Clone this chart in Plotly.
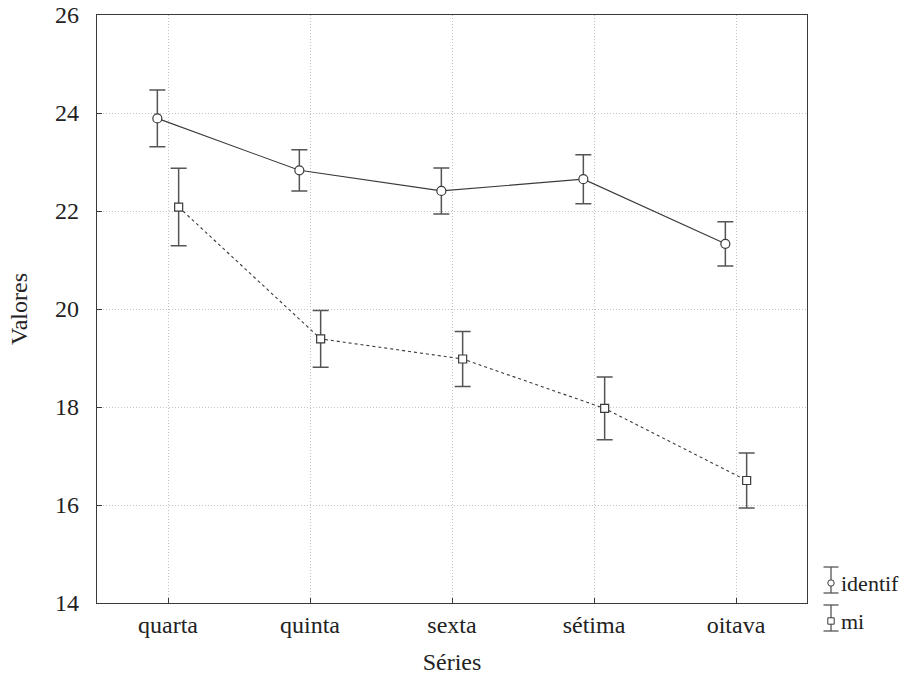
import plotly.graph_objects as go

categories = ["quarta", "quinta", "sexta", "sétima", "oitava"]
identif_mean = [23.89, 22.83, 22.41, 22.65, 21.33]
identif_err = [0.58, 0.42, 0.47, 0.50, 0.45]
mi_mean = [22.08, 19.39, 18.98, 17.97, 16.50]
mi_err = [0.79, 0.58, 0.56, 0.64, 0.56]
series_names = ["identif", "mi"]
y_ticks = [14, 16, 18, 20, 22, 24, 26]

W, H = 902, 680
ML, MR, MT, MB = 97, 95, 15, 77
PW, PH = W - ML - MR, H - MT - MB
FONT = "Liberation Serif, Times New Roman, serif"
DARK = "#3a3a3a"
OFF = 0.075
FS = 24

xpos = list(range(len(categories)))

fig = go.Figure()
fig.add_trace(go.Scatter(
    x=[i - OFF for i in xpos], y=identif_mean, name=series_names[0],
    mode="lines+markers",
    line=dict(color=DARK, width=1.1),
    marker=dict(symbol="circle", size=9, color="white", line=dict(color=DARK, width=1.2)),
    error_y=dict(type="data", array=identif_err, color="#555555", thickness=1.5, width=8),
    showlegend=False,
))
fig.add_trace(go.Scatter(
    x=[i + OFF for i in xpos], y=mi_mean, name=series_names[1],
    mode="lines+markers",
    line=dict(color=DARK, width=1.1, dash="3px,3px"),
    marker=dict(symbol="square", size=8, color="white", line=dict(color=DARK, width=1.2)),
    error_y=dict(type="data", array=mi_err, color="#555555", thickness=1.5, width=8),
    showlegend=False,
))

def px(x):
    return (x - ML) / PW

def py(y):
    return (H - MB - y) / PH

shapes = []
annotations = []
legend_items = [(series_names[0], 580, "circle"), (series_names[1], 618, "square")]
bx = 831
for name, cy, sym in legend_items:
    top, bot = cy - 13, cy + 13
    line = dict(color="#555555", width=1.3)
    shapes.append(dict(type="line", xref="paper", yref="paper", x0=px(bx), x1=px(bx), y0=py(top), y1=py(bot), line=line))
    shapes.append(dict(type="line", xref="paper", yref="paper", x0=px(bx - 7.5), x1=px(bx + 7.5), y0=py(top), y1=py(top), line=line))
    shapes.append(dict(type="line", xref="paper", yref="paper", x0=px(bx - 7.5), x1=px(bx + 7.5), y0=py(bot), y1=py(bot), line=line))
    r = 3.2
    shapes.append(dict(type=sym if sym == "circle" else "rect", xref="paper", yref="paper",
                       x0=px(bx - r), x1=px(bx + r), y0=py(cy + 3 - r), y1=py(cy + 3 + r),
                       line=dict(color=DARK, width=1), fillcolor="white"))
    annotations.append(dict(text=name, xref="paper", yref="paper", x=px(839), y=py(cy + 3),
                            xanchor="left", yanchor="middle", showarrow=False,
                            font=dict(family=FONT, size=22, color="#222")))

fig.update_layout(
    width=W, height=H,
    margin=dict(l=ML, r=MR, t=MT, b=MB, autoexpand=False),
    paper_bgcolor="white", plot_bgcolor="white",
    font=dict(family=FONT, size=FS, color="#222"),
    shapes=shapes, annotations=annotations,
    showlegend=False,
)
fig.update_xaxes(
    range=[-0.5, len(categories) - 0.5],
    tickmode="array", tickvals=xpos, ticktext=categories,
    showgrid=True, gridcolor="#c4c4c4", griddash="1px,2px", gridwidth=1,
    showline=True, linecolor=DARK, linewidth=1.2, mirror=True,
    ticks="inside", ticklen=5, tickcolor=DARK,
    zeroline=False, automargin=False,
    title=dict(text="Séries", font=dict(family=FONT, size=FS), standoff=16),
    tickfont=dict(family=FONT, size=FS),
)
fig.update_yaxes(
    range=[14, 26],
    tickmode="array", tickvals=y_ticks, ticktext=[str(v) for v in y_ticks],
    showgrid=True, gridcolor="#c4c4c4", griddash="1px,2px", gridwidth=1,
    showline=True, linecolor=DARK, linewidth=1.2, mirror=True,
    ticks="inside", ticklen=5, tickcolor=DARK,
    zeroline=False, automargin=False, ticklabelstandoff=12,
    title=dict(text="Valores", font=dict(family=FONT, size=FS), standoff=20),
    tickfont=dict(family=FONT, size=FS),
)

fig.write_html("out.html", config={"displayModeBar": False},
               post_script="document.body.style.margin='0';")
